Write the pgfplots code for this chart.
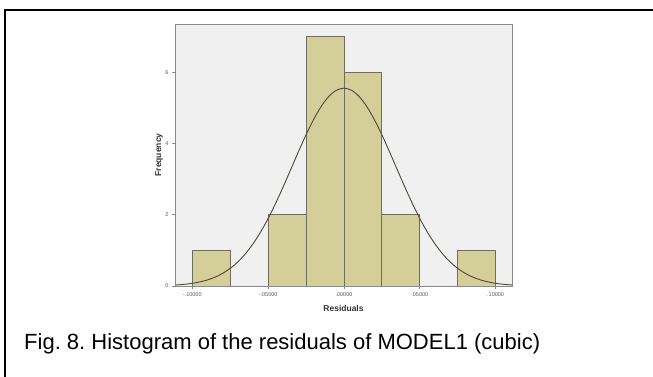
\documentclass[border=0pt]{standalone}
\usepackage{pgfplots}
\pgfplotsset{compat=1.18}
\usepackage{fontspec}
\setmainfont{Liberation Sans}
\setsansfont{Liberation Sans}
\frenchspacing

\definecolor{plotbg}{HTML}{F0F0F0}
\definecolor{barfill}{HTML}{D4CF98}
\definecolor{baredge}{HTML}{6E6D5E}
\definecolor{curve}{HTML}{4A4A3C}
\definecolor{axisgray}{HTML}{8A8A8A}
\definecolor{ticktext}{HTML}{555555}

\begin{document}
\begin{tikzpicture}
  \useasboundingbox (0pt,0pt) rectangle (653pt,377pt);
  % page frame
  \draw[line width=2pt, line cap=rect] (653pt,367pt) -- (5pt,367pt) -- (5pt,-2pt);

  \begin{axis}[
    at={(175pt,91pt)}, anchor=south west,
    scale only axis, width=337pt, height=262pt,
    xmin=-0.1114, xmax=0.1108,
    ymin=0, ymax=7.35,
    axis background/.style={fill=plotbg},
    axis line style={axisgray, line width=0.8pt},
    tick align=outside, xtick pos=bottom, ytick pos=left,
    major tick length=3pt,
    tick style={axisgray, line width=0.6pt},
    xtick={-0.1,-0.05,0,0.05,0.1},
    xticklabels={-.10000,-.05000,.00000,.05000,.10000},
    ytick={0,2,4,6},
    yticklabels={0,2,4,6},
    ticklabel style={font=\fontsize{5.5}{6}\selectfont, text=ticktext},
    xlabel={\textbf{Residuals}},
    ylabel={\textbf{Frequency}},
    label style={font=\fontsize{8.5}{9}\selectfont, text=black!80},
    xlabel style={at={(axis description cs:0.5,-0.084)}, anchor=center},
    ylabel style={at={(axis description cs:-0.0475,0.5)}, anchor=center},
    clip=true,
  ]
    % histogram of residuals (bin width 0.025)
    \addplot[ybar interval, fill=barfill, draw=baredge, line width=0.8pt]
      coordinates {(-0.1,1) (-0.075,0) (-0.05,2) (-0.025,7) (0,6) (0.025,2)
                   (0.05,0) (0.075,1) (0.1,1)};
    % fitted normal curve
    \addplot[curve, line width=0.9pt, smooth, no marks] coordinates {
      (-0.111,0.0278) (-0.105,0.0485) (-0.100,0.0753) (-0.095,0.1146)
      (-0.090,0.1705) (-0.085,0.2484) (-0.080,0.3541) (-0.075,0.4942)
      (-0.070,0.6749) (-0.065,0.9022) (-0.060,1.1804) (-0.055,1.5114)
      (-0.050,1.8942) (-0.045,2.3236) (-0.040,2.7895) (-0.035,3.2775)
      (-0.030,3.7691) (-0.025,4.2421) (-0.020,4.6730) (-0.015,5.0382)
      (-0.010,5.3164) (-0.005,5.4907) (0.000,5.5500)
      (0.005,5.4907) (0.010,5.3164) (0.015,5.0382) (0.020,4.6730)
      (0.025,4.2421) (0.030,3.7691) (0.035,3.2775) (0.040,2.7895)
      (0.045,2.3236) (0.050,1.8942) (0.055,1.5114) (0.060,1.1804)
      (0.065,0.9022) (0.070,0.6749) (0.075,0.4942) (0.080,0.3541)
      (0.085,0.2484) (0.090,0.1705) (0.095,0.1146) (0.100,0.0753)
      (0.105,0.0485) (0.111,0.0278)};
  \end{axis}

  \node[anchor=base west, font=\fontsize{22}{24}\selectfont, inner sep=0pt]
    at (24pt,27pt) {Fig. 8. Histogram of the residuals of MODEL1 (cubic)};
\end{tikzpicture}
\end{document}
